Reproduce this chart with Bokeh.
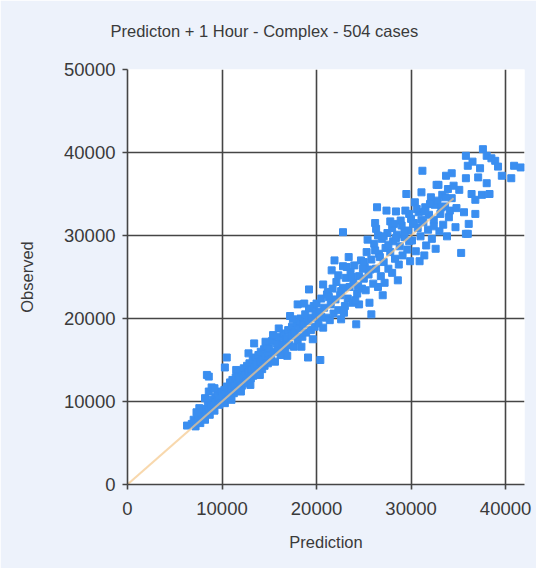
from bokeh.plotting import figure
from bokeh.models import Range1d, FixedTicker, Title
from bokeh.embed import file_html
from bokeh.resources import INLINE

# ---- data ----
title_text = "Predicton + 1 Hour - Complex - 504 cases"
x_label = "Prediction"
y_label = "Observed"
x_ticks = [0, 10000, 20000, 30000, 40000]
y_ticks = [0, 10000, 20000, 30000, 40000, 50000]
diag = [0, 34500]  # identity line y = x

pred_a = [6300, 6800, 7000, 7200, 7400, 7500, 7800, 7900, 8000, 8100,
          8300, 8400, 8500, 8600, 8700, 8800, 8900, 9000, 9100, 9200,
          9300, 9400, 9500, 9600, 9700, 9800, 9900, 10000, 8600, 8400,
          8600, 8900, 7600, 8200, 9200, 7300, 7700, 8200]
obs_a = [7100, 7300, 7800, 7000, 8200, 7600, 8600, 7900, 8900, 8200,
         9100, 8600, 9600, 9000, 8400, 9800, 9300, 10200, 9600, 8900,
         10500, 9900, 10900, 10100, 9600, 10600, 11200, 10000, 13000, 13200,
         11200, 11700, 9200, 10400, 11600, 8700, 7400, 7800]

pred_b = [10100, 10250, 10300, 10450, 10500, 10650, 10700, 10850, 10900, 11050,
          11100, 11250, 11300, 11450, 11500, 11650, 11700, 11850, 11900, 12050,
          12100, 12250, 12300, 12450, 12500, 12650, 12700, 12850, 12900, 13050,
          13100, 13250, 13300, 13450, 13500, 13650, 13700, 13850, 13900, 14050,
          14100, 14250, 14300, 14450, 14500, 14650, 14700, 14850, 14900, 10500,
          13400, 11500, 12800, 11000, 12000, 13000, 14000, 14600, 10300]
obs_b = [10700, 11400, 9800, 10900, 11800, 10400, 11200, 12300, 10800, 11600,
         12600, 11000, 11900, 12900, 11300, 12200, 13300, 11600, 12600, 13700,
         11900, 12900, 14000, 12200, 13200, 14300, 12500, 13500, 14600, 12800,
         13800, 15000, 13100, 14200, 15300, 13300, 14500, 15600, 13600, 14800,
         16000, 13900, 15100, 16300, 14300, 15400, 16600, 14600, 15800, 15300,
         17000, 13800, 15800, 10200, 11200, 12000, 13200, 17200, 14100]

pred_c = [15000, 15200, 15300, 15500, 15600, 15800, 15900, 16100, 16200, 16400,
          16500, 16700, 16800, 17000, 17100, 17300, 17400, 17600, 17700, 17900,
          18000, 18200, 18300, 18500, 18600, 18800, 18900, 19100, 19200, 19400,
          19500, 19700, 19800, 19900, 16000, 17200, 18000, 18700, 19200, 19100,
          20400, 16900, 18400, 19600, 15400, 17500]
obs_c = [16400, 15100, 17300, 16000, 14800, 17000, 16200, 17800, 15600, 16900,
         18200, 16300, 17500, 18600, 16800, 17900, 19000, 16600, 18300, 19400,
         17400, 18800, 20000, 17800, 19300, 20500, 18300, 19700, 21200, 18600,
         20100, 21500, 19000, 20600, 18800, 20300, 21700, 21800, 23500, 15300,
         15000, 15500, 16600, 17500, 18000, 19900]

pred_d = [20000, 20200, 20300, 20500, 20700, 20700, 20800, 21000, 21100, 21200,
          21400, 21500, 21700, 21800, 22000, 22100, 22300, 22300, 22500, 22600,
          22800, 22800, 23000, 23100, 23300, 23500, 23600, 23800, 23900, 24000,
          24200, 24300, 24500, 24500, 24700, 24800, 25000, 21900, 23400, 24100,
          20500, 22900, 22800, 21600]
obs_d = [21800, 19400, 20800, 22400, 18900, 24100, 21300, 20100, 22900, 23200,
         19800, 21700, 23600, 20600, 22300, 24400, 21000, 25200, 22800, 19900,
         26300, 23700, 21500, 24900, 22400, 23800, 25600, 21900, 24300, 26400,
         19300, 23000, 21700, 25100, 27000, 23600, 24800, 27000, 27400, 22200,
         20200, 20700, 30400, 25800]

pred_e = [25100, 25200, 25300, 25500, 25600, 25800, 25800, 26000, 26100, 26300,
          26300, 26400, 26500, 26600, 26800, 26900, 27100, 27200, 27300, 27500,
          27600, 27800, 27800, 28000, 28100, 28300, 28400, 28500, 28700, 28800,
          29000, 29100, 29300, 29400, 29600, 29700, 29900, 30000, 27000, 28600,
          29500, 26200, 25400, 27400]
obs_e = [26200, 23400, 28000, 25300, 21900, 20500, 27100, 24200, 29000, 30800,
         26000, 33400, 23800, 27800, 25100, 29600, 26800, 24300, 28500, 30300,
         26000, 31700, 28000, 25500, 29300, 27200, 32900, 30100, 26500, 28700,
         31200, 27600, 29800, 33000, 28300, 30600, 26900, 32000, 22800, 24600,
         35000, 31500, 29500, 33000]

pred_f = [30100, 30200, 30400, 30500, 30700, 30800, 31000, 31100, 31200, 31300,
          31500, 31600, 31800, 31900, 32100, 32200, 32400, 32500, 32700, 32900,
          33000, 33100, 33300, 33400, 33600, 33800, 33900, 34000, 34300, 34300,
          34500, 34700, 34800, 35100, 35300, 31400, 32600, 30900, 33700]
obs_f = [29400, 31400, 34000, 28100, 30900, 32800, 29900, 35200, 37800, 31600,
         33400, 28800, 30700, 32500, 34600, 29600, 31900, 33700, 36100, 36100,
         30500, 32600, 34900, 31300, 33500, 29900, 35600, 32200, 34500, 37500,
         36000, 31000, 33300, 35500, 27900, 27600, 28400, 26900, 37200]

pred_g = [35600, 35800, 35800, 35800, 36000, 36000, 36100, 36400, 36800, 36800,
          37100, 37500, 37600, 38000, 38000, 38500, 38900, 39600, 40600, 40900,
          41600, 36500, 37300, 38300, 39200]
obs_g = [32800, 36900, 39600, 30200, 38400, 30200, 31400, 35000, 34300, 32600,
         37000, 34900, 40400, 39600, 36300, 39300, 39000, 37200, 36900, 38400,
         38200, 38900, 38100, 35000, 38300]

pred_h = [21300, 22600, 23700, 24400, 25000, 25700, 26200, 26700, 27100, 27600,
          28000, 28400, 28900, 29300, 29800, 30300, 30600, 31100, 31500, 32000,
          32400, 32800, 33200, 33600, 34100, 23200, 24900, 26500, 28200, 29800]
obs_h = [22600, 23300, 25000, 23900, 26800, 25900, 28200, 27400, 29900, 28900,
         30900, 29700, 31800, 30400, 32600, 31500, 33200, 31900, 32900, 33800,
         31100, 34200, 33400, 34600, 33000, 26200, 26000, 30000, 31400, 29300]

prediction = pred_a + pred_b + pred_c + pred_d + pred_e + pred_f + pred_g + pred_h
observed = obs_a + obs_b + obs_c + obs_d + obs_e + obs_f + obs_g + obs_h

# ---- figure ----
FONT = "Liberation Sans"
GRID = "#454545"
TEXT = "#3a3a3a"

p = figure(width=536, height=568, output_backend="svg", toolbar_location=None,
           x_range=Range1d(0, 42000), y_range=Range1d(0, 50000),
           min_border_left=127, min_border_right=12, min_border_top=69,
           min_border_bottom=84)
p.border_fill_color = "#edf2fb"
p.background_fill_color = "white"
p.outline_line_color = None

p.xaxis.ticker = FixedTicker(ticks=x_ticks)
p.yaxis.ticker = FixedTicker(ticks=y_ticks)
p.xaxis.axis_label = x_label
p.yaxis.axis_label = y_label

for ax in (p.xaxis[0], p.yaxis[0]):
    ax.axis_line_color = GRID
    ax.axis_line_width = 1.6
    ax.major_tick_line_color = GRID
    ax.major_tick_line_width = 1.6
    ax.major_tick_out = 5
    ax.major_tick_in = 0
    ax.minor_tick_line_color = None
    ax.major_label_text_font = FONT
    ax.major_label_text_font_size = "18.5px"
    ax.major_label_text_color = TEXT
    ax.axis_label_text_font = FONT
    ax.axis_label_text_font_size = "16.5px"
    ax.axis_label_text_font_style = "normal"
    ax.axis_label_text_color = TEXT

p.xaxis.major_label_standoff = 12
p.xaxis.axis_label_standoff = 15
p.yaxis.major_label_standoff = 7
p.yaxis.axis_label_standoff = 25

for g in (p.xgrid[0], p.ygrid[0]):
    g.grid_line_color = GRID
    g.grid_line_width = 1.6
    g.grid_line_alpha = 1.0

p.scatter(prediction, observed, marker="square", size=7,
          fill_color="#3a8ef0", line_color="#3a8ef0")
p.line(diag, diag, line_color="#f5c88a", line_width=2, line_alpha=0.7)

# spacer panel between the frame and the title, then the title itself
spacer = Title(text=" ", text_font_size="1px", standoff=27)
p.add_layout(spacer, "above")
title = Title(text=title_text, align="left", offset=-17, standoff=0,
              vertical_align="bottom", text_font=FONT, text_font_size="16.5px",
              text_font_style="normal", text_color=TEXT)
p.add_layout(title, "above")

open("out.html", "w").write(file_html(p, INLINE))
